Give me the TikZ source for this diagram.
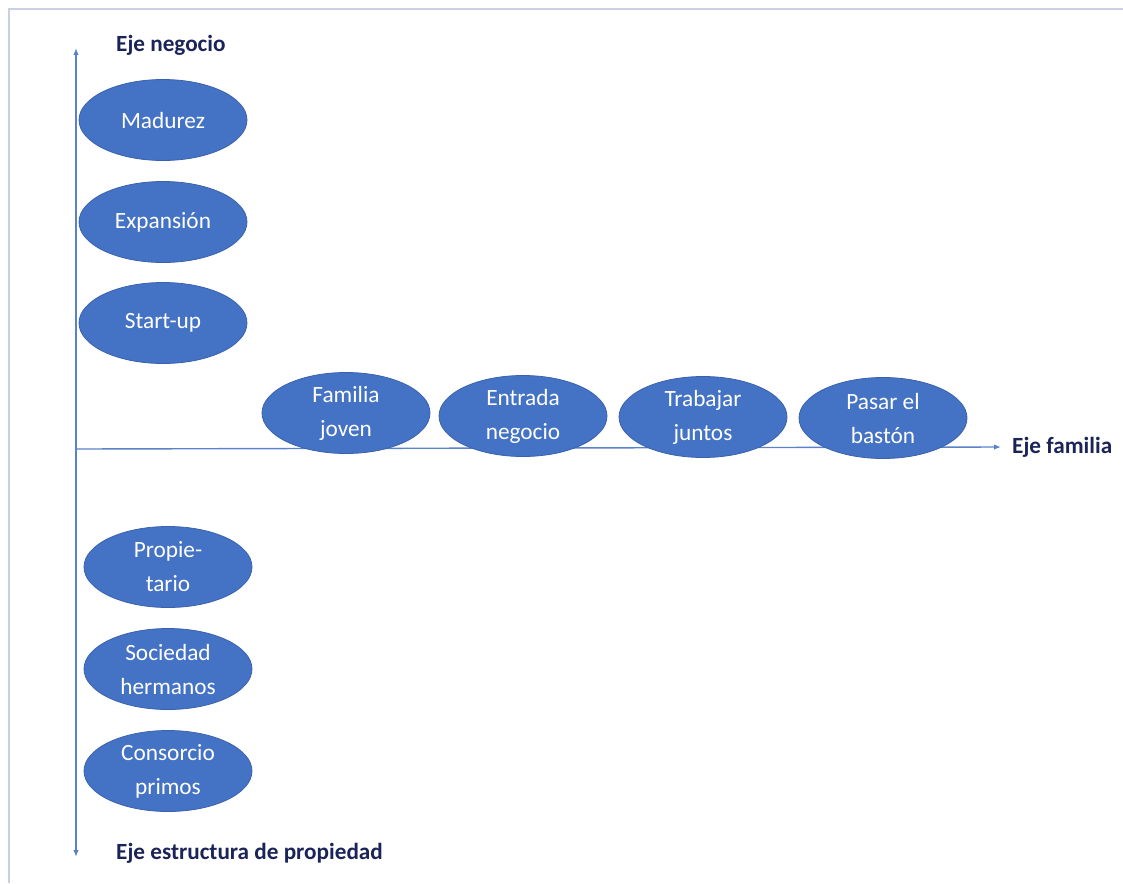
\documentclass[tikz,border=0pt]{standalone}
\usepackage{fontspec}
\setmainfont{Carlito}
\usetikzlibrary{shapes.geometric,arrows.meta}
\definecolor{stageblue}{HTML}{4472C4}
\definecolor{stageedge}{HTML}{3A62AC}
\definecolor{axisblue}{HTML}{5B82C8}
\definecolor{labelnavy}{HTML}{1B2458}
\definecolor{framegray}{HTML}{C9D0E2}
\tikzset{
  stage/.style={ellipse, fill=stageblue, draw=stageedge, line width=0.8pt,
    minimum width=168pt, minimum height=81pt, inner sep=0pt,
    text=white, align=center,
    font=\fontsize{23.3}{34}\selectfont},
  axislabel/.style={anchor=west, text=labelnavy, inner sep=0pt,
    font=\fontsize{23.2}{28}\selectfont\bfseries},
  axisline/.style={draw=axisblue, line width=1.4pt},
  tip/.style={-{Latex[length=7pt,width=5.5pt]}}
}
\begin{document}
\begin{tikzpicture}[x=1pt,y=-1pt]
  \useasboundingbox (0,0) rectangle (1123,883);
  % page frame
  \draw[framegray, line width=1.6pt] (9,883) -- (9,9) -- (1123,9);

  % axes
  \coordinate (ytop) at (76,48);
  \coordinate (ybot) at (76,857);
  \coordinate (orig) at (76,449);
  \coordinate (xend) at (1001,447);
  \draw[axisline, {Latex[length=7pt,width=5.5pt]}-{Latex[length=7pt,width=5.5pt]}] (ybot) -- (ytop);
  \draw[axisline, tip] (orig) -- (xend);

  % axis labels
  \node[axislabel] (negocio) at (116,45) {Eje negocio};
  \node[axislabel] (familia) at (1012,447) {Eje familia};
  \node[axislabel] (propiedad) at (116,853) {Eje estructura de propiedad};

  % business axis stages
  \node[stage] (madurez) at (163,120) {Madurez};
  \node[stage] (expansion) at (163,222) {Expansión};
  \node[stage] (startup) at (163,323) {Start-up};

  % family axis stages
  \node[stage] (joven) at (346,413) {Familia\\joven};
  \node[stage] (entrada) at (523,416) {Entrada\\negocio};
  \node[stage] (juntos) at (703,417) {Trabajar\\juntos};
  \node[stage] (baston) at (883,418) {Pasar el\\bastón};

  % ownership axis stages
  \node[stage] (propietario) at (168,567) {Propie-\\tario};
  \node[stage] (hermanos) at (168,669) {Sociedad\\hermanos};
  \node[stage] (primos) at (168,771) {Consorcio\\primos};
\end{tikzpicture}
\end{document}
